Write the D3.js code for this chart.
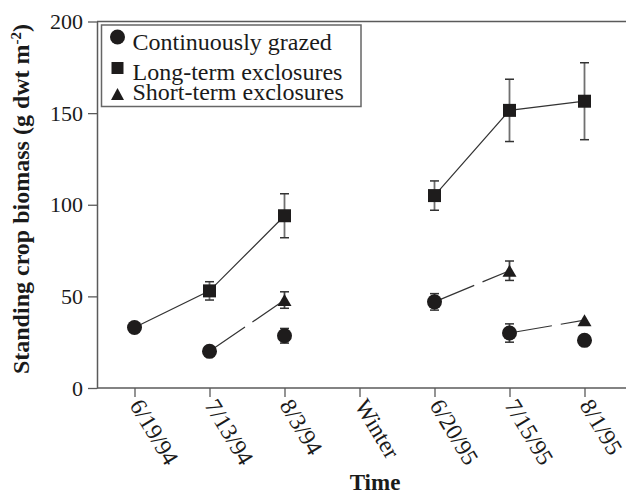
<!DOCTYPE html>
<html>
<head>
<meta charset="utf-8">
<script src="https://cdn.jsdelivr.net/npm/d3@7/dist/d3.min.js"></script>
<style>
  html, body { margin: 0; padding: 0; background: #fff; }
  svg { display: block; }
  text { font-family: "Liberation Serif", "Times New Roman", serif; fill: #1a1a1a; }
</style>
</head>
<body>
<svg id="chart" width="626" height="495"></svg>
<script>
// ---- Data ----
const categories = ["6/19/94", "7/13/94", "8/3/94", "Winter", "6/20/95", "7/15/95", "8/1/95"];
const yTicks = [0, 50, 100, 150, 200];

// Continuously grazed (circles)
const grazed    = [33, 20, 28.5, null, 47, 30, 26];
const grazedErr = [null, null, 4, null, 4.5, 5, null];

// Long-term exclosures (squares)
const longTerm    = [null, 53, 94, null, 105, 151.5, 156.5];
const longTermErr = [null, 5, 12, null, 8, 17, 21];
// long-term line starts at the grazed value at the first date
const longTermLine = [33, 53, 94, null, 105, 151.5, 156.5];

// Short-term exclosures (triangles), each begun from the grazed value at the previous date
const shortTerm    = [null, null, 48, null, null, 64, 37];
const shortTermErr = [null, null, 4.5, null, null, 5.3, null];

const legendLabels = ["Continuously grazed", "Long-term exclosures", "Short-term exclosures"];

// ---- Layout ----
const svg = d3.select("#chart");
const mLeft = 97, mRight = 626, mTop = 21.5, mBottom = 388;

const x = d3.scalePoint().domain(categories).range([mLeft, 622]).padding(0.5);
const y = d3.scaleLinear().domain([0, 200]).range([mBottom, mTop]);

const frameColor = "#5a5a5a";
const lineColor = "#333";
const markColor = "#1e1c1c";
const serif = '"Liberation Serif", "Times New Roman", serif';

// frame: top line
svg.append("line").attr("x1", mLeft).attr("x2", mRight).attr("y1", y(200)).attr("y2", y(200))
  .attr("stroke", frameColor).attr("stroke-width", 1.5);

// Y axis
const yAxis = svg.append("g").attr("transform", `translate(${mLeft},0)`)
  .call(d3.axisLeft(y).tickValues(yTicks).tickSize(9).tickPadding(5).tickSizeOuter(0));
yAxis.attr("font-family", null);
yAxis.select(".domain").attr("stroke", frameColor).attr("stroke-width", 1.5);
yAxis.selectAll(".tick line").attr("stroke", frameColor).attr("stroke-width", 1.3);
yAxis.selectAll(".tick text").style("font-family", serif)
  .style("font-size", "22px").attr("fill", "#1a1a1a");

// X axis
const xAxis = svg.append("g").attr("transform", `translate(0,${mBottom})`)
  .call(d3.axisBottom(x).tickSize(9).tickSizeOuter(0));
xAxis.attr("font-family", null);
xAxis.select(".domain").remove();
svg.append("line").attr("x1", mLeft).attr("x2", mRight).attr("y1", mBottom).attr("y2", mBottom)
  .attr("stroke", frameColor).attr("stroke-width", 1.5);
xAxis.selectAll(".tick line").attr("stroke", frameColor).attr("stroke-width", 1.3);
xAxis.selectAll(".tick text")
  .style("font-family", serif).style("font-size", "23.5px")
  .attr("fill", "#1a1a1a")
  .attr("x", 0).attr("y", 0).attr("dy", "0.35em")
  .attr("transform", "translate(1,13) rotate(59)")
  .style("text-anchor", "start");

// Axis titles
svg.append("text").attr("x", 375).attr("y", 490).attr("text-anchor", "middle")
  .style("font-size", "23px").style("font-weight", "bold").text("Time");

const yt = svg.append("text").attr("transform", "translate(29,199) rotate(-90)")
  .attr("text-anchor", "middle").style("font-size", "24px").style("font-weight", "bold");
yt.append("tspan").text("Standing crop biomass (g dwt m");
yt.append("tspan").attr("dy", "-8").style("font-size", "15px").text("-2");
yt.append("tspan").attr("dy", "8").text(")");

// ---- Lines ----
const idx = d3.range(categories.length);
const line = d3.line().defined(i => longTermLine[i] != null)
  .x(i => x(categories[i])).y(i => y(longTermLine[i]));
svg.append("path").attr("d", line(idx)).attr("fill", "none")
  .attr("stroke", lineColor).attr("stroke-width", 1.2);

// Short-term dashed segments: from grazed at previous date to short-term value
idx.filter(i => shortTerm[i] != null).forEach(i => {
  svg.append("line")
    .attr("x1", x(categories[i - 1])).attr("y1", y(grazed[i - 1]))
    .attr("x2", x(categories[i])).attr("y2", y(shortTerm[i]))
    .attr("stroke", lineColor).attr("stroke-width", 1.2)
    .attr("stroke-dasharray", "43,9");
});

// ---- Error bars ----
function errorBars(vals, errs, color) {
  idx.filter(i => vals[i] != null && errs[i] != null).forEach(i => {
    const cx = x(categories[i]);
    const g = svg.append("g");
    g.append("line").attr("x1", cx).attr("x2", cx)
      .attr("y1", y(vals[i] - errs[i])).attr("y2", y(vals[i] + errs[i]))
      .attr("stroke", color).attr("stroke-width", 1.8);
    [vals[i] - errs[i], vals[i] + errs[i]].forEach(v => {
      g.append("line").attr("x1", cx - 4.5).attr("x2", cx + 4.5)
        .attr("y1", y(v)).attr("y2", y(v))
        .attr("stroke", "#333").attr("stroke-width", 1.5);
    });
  });
}
errorBars(longTerm, longTermErr, "#707070");
errorBars(shortTerm, shortTermErr, "#444");
errorBars(grazed, grazedErr, "#444");

// ---- Markers ----
const circleSym = d3.symbol().type(d3.symbolCircle).size(Math.PI * 7.5 * 7.5);
const squareSym = d3.symbol().type(d3.symbolSquare).size(13 * 13);
function triPath(w, h) {
  return `M0,${-h / 2}L${w / 2},${h / 2}L${-w / 2},${h / 2}Z`;
}

idx.filter(i => longTerm[i] != null).forEach(i => {
  svg.append("path").attr("d", squareSym())
    .attr("transform", `translate(${x(categories[i])},${y(longTerm[i])})`).attr("fill", markColor);
});
idx.filter(i => shortTerm[i] != null).forEach(i => {
  svg.append("path").attr("d", triPath(14, 12))
    .attr("transform", `translate(${x(categories[i])},${y(shortTerm[i])})`).attr("fill", markColor);
});
idx.filter(i => grazed[i] != null).forEach(i => {
  svg.append("path").attr("d", circleSym())
    .attr("transform", `translate(${x(categories[i])},${y(grazed[i])})`).attr("fill", markColor);
});

// ---- Legend ----
const lg = svg.append("g");
lg.append("rect").attr("x", 101.5).attr("y", 25).attr("width", 259.5).attr("height", 81.5)
  .attr("fill", "#fff").attr("stroke", "#666").attr("stroke-width", 1.5);
const legendSyms = [
  { d: circleSym(), cy: 37 },
  { d: d3.symbol().type(d3.symbolSquare).size(12 * 12)(), cy: 68 },
  { d: triPath(13, 12), cy: 94 }
];
const legendBase = [49.5, 79.5, 100];
legendLabels.forEach((t, k) => {
  lg.append("path").attr("d", legendSyms[k].d)
    .attr("transform", `translate(117.5,${legendSyms[k].cy})`).attr("fill", markColor);
  lg.append("text").attr("x", 132.5).attr("y", legendBase[k])
    .style("font-size", "24px").text(t);
});
</script>
</body>
</html>
